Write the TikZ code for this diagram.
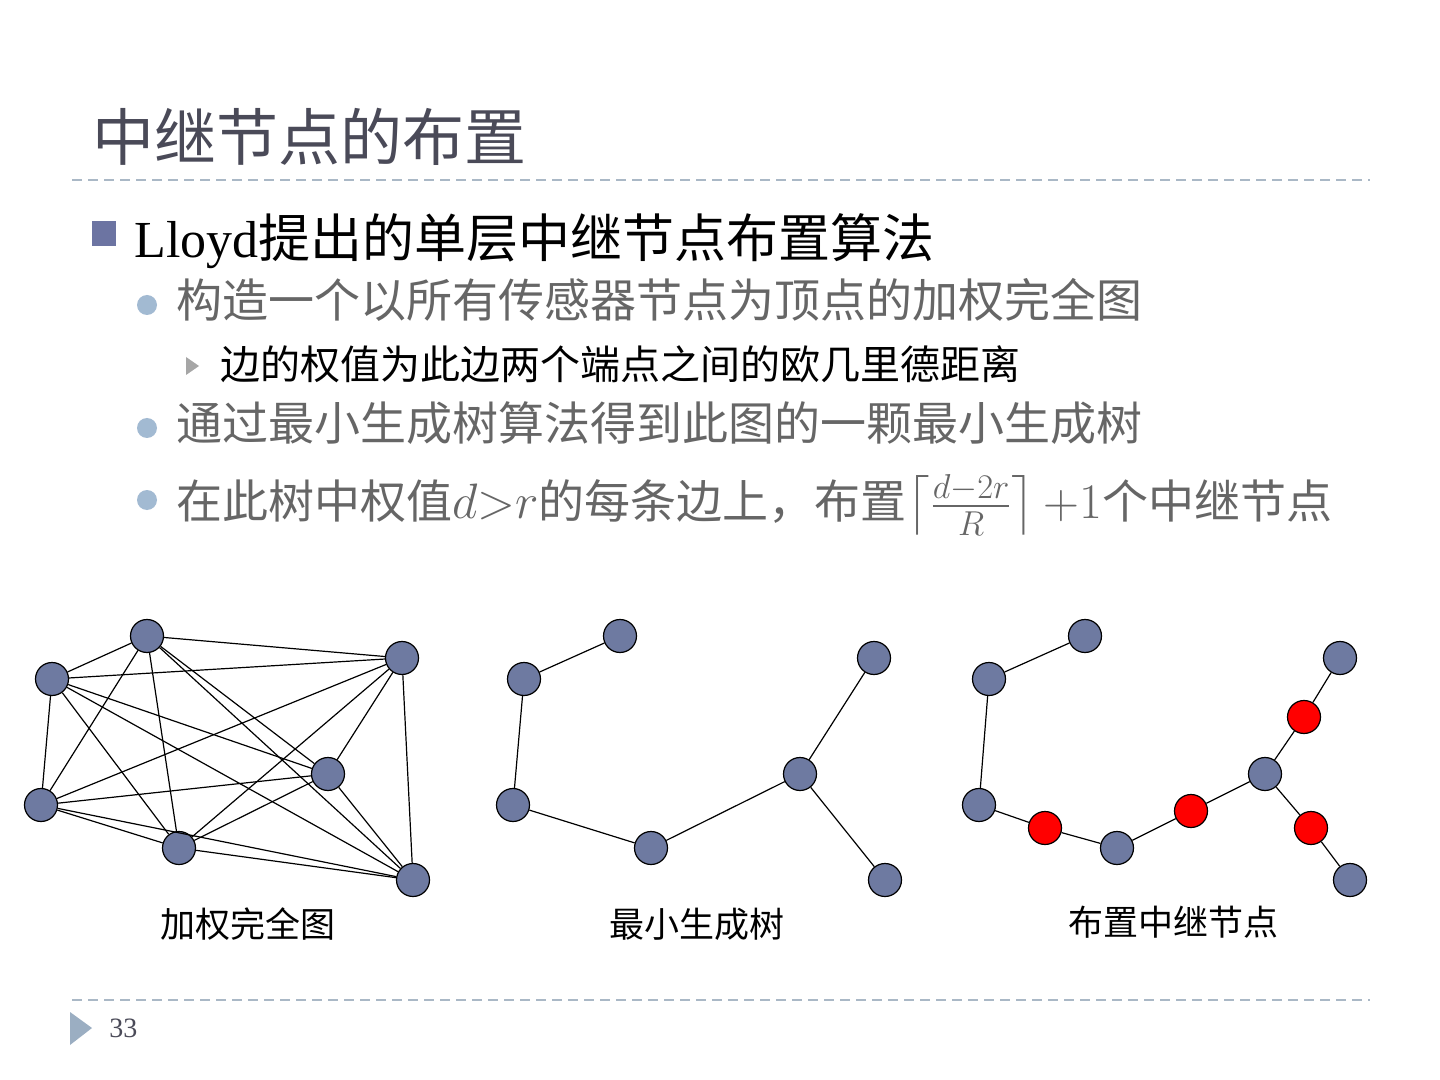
\documentclass[tikz,border=0pt]{standalone}
\usepackage{amsmath}
\usepackage{fontspec}
\setmainfont{Liberation Serif}
\newfontfamily\cjk{Noto Sans CJK SC}
\usetikzlibrary{positioning}
\definecolor{nodeblue}{HTML}{6E7AA1}
\definecolor{titlegray}{HTML}{4A4A58}
\definecolor{subgray}{HTML}{666666}
\definecolor{rulegray}{HTML}{AAB8C6}
\definecolor{dotblue}{HTML}{A2BAD2}
\definecolor{squareblue}{HTML}{6C74A2}
\tikzset{
  sensor/.style={circle, draw=black, fill=nodeblue, minimum size=16.5pt, inner sep=0pt, line width=0.6pt},
  relay/.style={sensor, fill=red},
  link/.style={line width=0.6pt},
  rule/.style={rulegray, line width=0.7pt, dash pattern=on 5pt off 3pt},
  lvl/.style={anchor=base west, inner sep=0pt}}

\begin{document}
\begin{tikzpicture}[x=0.5pt, y=-0.5pt]
\useasboundingbox [fill=white] (0,0) rectangle (1440,1080);
% title and rules
\node [lvl, text=titlegray, font=\fontsize{31}{36}\selectfont\cjk] (title) at (92,161) {中继节点的布置};
\draw [rule] (72,180) -- (1370,180);
\draw [rule] (72,1000) -- (1370,1000);
\fill [dotblue!80!gray] (70,1012) -- (92,1028) -- (70,1045) -- cycle;
\node [lvl, text=titlegray, font=\fontsize{14}{16}\selectfont] (page) at (109,1037) {33};
% bullets
\fill [squareblue] (92,221) rectangle (116,246);
\fill [dotblue] (147,305) circle (10);
\fill [gray!70] (186,357) -- (199,366) -- (186,375) -- cycle;
\fill [dotblue] (147,428) circle (10);
\fill [dotblue] (147,500) circle (10);
\node [lvl, font=\fontsize{26}{30}\selectfont] (l1) at (134,258) {Lloyd{\cjk 提出的单层中继节点布置算法}};
\node [lvl, text=subgray, font=\fontsize{23}{27}\selectfont\cjk] (l2) at (176,318) {构造一个以所有传感器节点为顶点的加权完全图};
\node [lvl, font=\fontsize{20}{24}\selectfont\cjk] (l3) at (220,380) {边的权值为此边两个端点之间的欧几里德距离};
\node [lvl, text=subgray, font=\fontsize{23}{27}\selectfont\cjk] (l4) at (176,441) {通过最小生成树算法得到此图的一颗最小生成树};
\node [lvl, text=subgray, font=\fontsize{23}{27}\selectfont] (l5) at (176,518)
  {{\cjk 在此树中权值}$d{>}r${\cjk 的每条边上，布置}$\left\lceil\frac{d-2r}{R}\right\rceil{+}1${\cjk 个中继节点}};

% weighted complete graph
\node [sensor] (a) at (147,636) {};
\node [sensor] (b) at (52,679) {};
\node [sensor] (c) at (402,658) {};
\node [sensor] (d) at (328,774) {};
\node [sensor] (e) at (41,805) {};
\node [sensor] (f) at (179,848) {};
\node [sensor] (g) at (413,880) {};
\foreach \u/\vs in {a/{b,c,d,e,f,g}, b/{c,d,e,f,g}, c/{d,e,f,g}, d/{e,f,g}, e/{f,g}, f/{g}}
  \foreach \v in \vs \draw [link] (\u) -- (\v);
\node [font=\fontsize{17.5}{20}\selectfont\cjk] (cap1) at (248,924) {加权完全图};

% minimum spanning tree
\node [sensor] (ta) at (620,636) {};
\node [sensor] (tb) at (524,679) {};
\node [sensor] (tc) at (874,658) {};
\node [sensor] (td) at (800,774) {};
\node [sensor] (te) at (513,805) {};
\node [sensor] (tf) at (651,848) {};
\node [sensor] (tg) at (885,880) {};
\draw [link] (ta) -- (tb) -- (te) -- (tf) -- (td) -- (tc);
\draw [link] (td) -- (tg);
\node [font=\fontsize{17.5}{20}\selectfont\cjk] (cap2) at (697,924) {最小生成树};

% relay placement
\node [sensor] (ra) at (1085,636) {};
\node [sensor] (rb) at (989,679) {};
\node [sensor] (rc) at (1340,658) {};
\node [sensor] (rd) at (1265,774) {};
\node [sensor] (re) at (979,805) {};
\node [sensor] (rf) at (1117,848) {};
\node [sensor] (rg) at (1350,880) {};
\node [relay] (r1) at (1045,828) {};
\node [relay] (r2) at (1191,811) {};
\node [relay] (r3) at (1304,717) {};
\node [relay] (r4) at (1311,828) {};
\draw [link] (ra) -- (rb) -- (re) -- (r1) -- (rf) -- (r2) -- (rd) -- (r3) -- (rc);
\draw [link] (rd) -- (r4) -- (rg);
\node [font=\fontsize{17.5}{20}\selectfont\cjk] (cap3) at (1173,922) {布置中继节点};
\end{tikzpicture}
\end{document}
